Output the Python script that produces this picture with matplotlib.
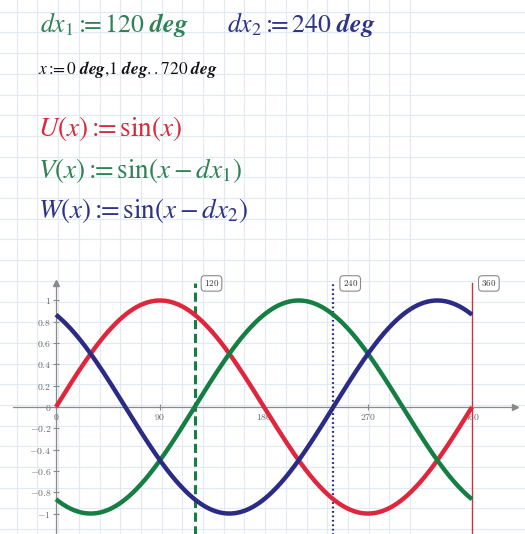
import numpy as np
import matplotlib.pyplot as plt

plt.rcParams['mathtext.fontset'] = 'cm'
plt.rcParams['font.family'] = 'DejaVu Serif'

# worksheet values
dx1 = 120
dx2 = 240
x_deg = np.arange(0, 361, 1)
marker_pos = [120, 240, 360]
yticks = [-1, -0.8, -0.6, -0.4, -0.2, 0, 0.2, 0.4, 0.6, 0.8, 1]
ytick_labels = ["-1", "-0.8", "-0.6", "-0.4", "-0.2", "0", "0.2", "0.4", "0.6", "0.8", "1"]
xticks = [0, 90, 180, 270, 360]

U = np.sin(np.radians(x_deg))
V = np.sin(np.radians(x_deg - dx1))
W = np.sin(np.radians(x_deg - dx2))

red = "#e0263c"
green = "#157f43"
blue = "#2b2b86"
axis_gray = "#8a8a8a"

fig = plt.figure(figsize=(5.25, 5.34), dpi=100)

# page background with the worksheet grid, in pixel units
bg = fig.add_axes([0, 0, 1, 1], zorder=0)
bg.set_xlim(0, 525)
bg.set_ylim(534, 0)
bg.axis("off")
step = 20.7
for gx in np.arange(410, 10, -step):
    bg.axvline(gx, color="#dfeaf5", lw=0.8)
for gy in np.arange(11.7, 534, step):
    bg.axhline(gy, color="#dfeaf5", lw=0.8)

# definitions
defn = r"{:}\!\!\!="
mf = "stix"
bg.text(40, 32, r"$dx_1" + defn + r"120\ \mathbfit{deg}$", color="#2f8256", fontsize=18.5,
        va="baseline", math_fontfamily=mf)
bg.text(227, 32, r"$dx_2" + defn + r"240\ \mathbfit{deg}$", color="#2e3387", fontsize=18.5,
        va="baseline", math_fontfamily=mf)
bg.text(38, 74, r"$x" + defn + r"0\ \mathbfit{deg}{,}1\ \mathbfit{deg}{..}720\ \mathbfit{deg}$",
        color="#111111", fontsize=12.5, va="baseline", math_fontfamily=mf)
bg.text(38, 136, r"$U(x)" + defn + r"\sin(x)$", color="#d42a3c", fontsize=19.5,
        va="baseline", math_fontfamily=mf)
bg.text(38, 178, r"$V(x)" + defn + r"\sin(x-dx_1)$", color="#2f8256", fontsize=19.5,
        va="baseline", math_fontfamily=mf)
bg.text(38, 218, r"$W(x)" + defn + r"\sin(x-dx_2)$", color="#2e3387", fontsize=19.5,
        va="baseline", math_fontfamily=mf)

# plot region
ax = fig.add_axes([13 / 525, 0, (515 - 13) / 525, (534 - 283) / 534], zorder=1)
ax.patch.set_alpha(0)
ax.set_xlim(-37.2, 397.2)
ax.set_ylim(-1.192, 1.164)
for s in ["top", "right"]:
    ax.spines[s].set_visible(False)
ax.spines["left"].set_position(("data", 0))
ax.spines["bottom"].set_position(("data", 0))
ax.spines["left"].set_color(axis_gray)
ax.spines["bottom"].set_color(axis_gray)
ax.spines["left"].set_linewidth(0.9)
ax.spines["bottom"].set_linewidth(0.9)
ax.plot([1], [0], ">", color=axis_gray, ms=5, transform=ax.get_yaxis_transform(), clip_on=False)
ax.plot([0], [1], "^", color=axis_gray, ms=5, transform=ax.get_xaxis_transform(), clip_on=False)

ax.set_yticks(yticks)
ax.set_yticklabels(["$" + t + "$" for t in ytick_labels])
ax.set_xticks(xticks)
ax.set_xticklabels(["$%d$" % t for t in xticks])
ax.tick_params(axis="both", direction="inout", length=5, width=0.8, color=axis_gray,
               labelcolor="#666666", labelsize=7, pad=1)

for xv, style, col, lw in zip(marker_pos, [(0, (3, 1.5)), (0, (0.8, 1.2)), "-"],
                              [green, blue, "#c8333f"], [2.2, 1.6, 1.0]):
    ax.plot([xv, xv], [-1.25, 1.16], linestyle=style, color=col, lw=lw, clip_on=False, zorder=2)
    ax.text(xv + 8, 1.16, "$%d$" % xv, fontsize=6.5, color="#333333", ha="left", va="center",
            bbox=dict(boxstyle="round,pad=0.3,rounding_size=0.4", fc="white", ec="#8a8a8a", lw=0.8),
            zorder=3)

ax.plot(x_deg, U, color=red, lw=3.2, solid_capstyle="butt", zorder=4)
ax.plot(x_deg, V, color=green, lw=3.2, solid_capstyle="butt", zorder=4)
ax.plot(x_deg, W, color=blue, lw=3.2, solid_capstyle="butt", zorder=4)

fig.savefig("out.png", dpi=100)
